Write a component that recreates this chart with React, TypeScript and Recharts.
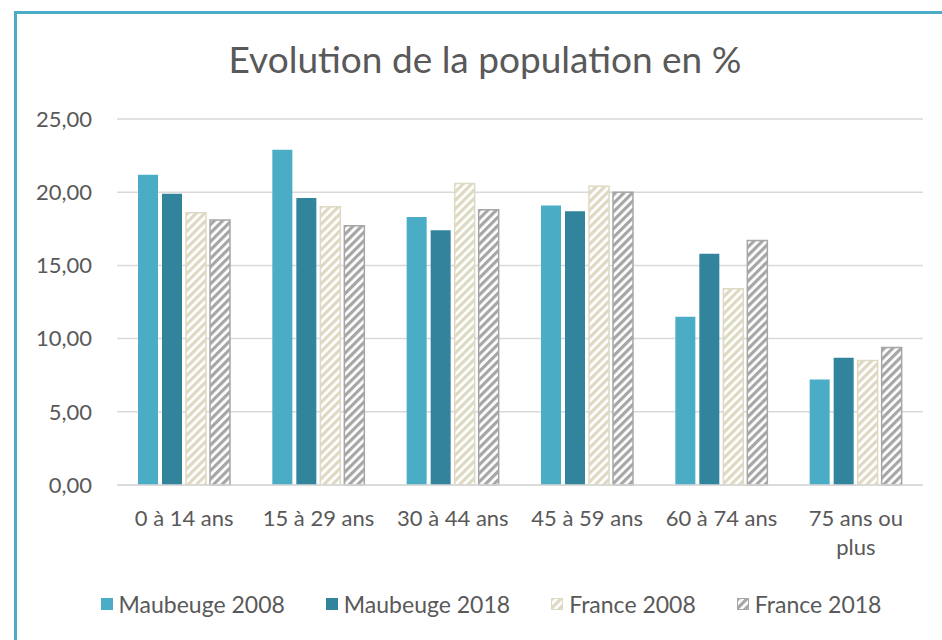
import { BarChart, Bar, XAxis, YAxis, CartesianGrid, Legend } from 'recharts'

const categories = ['0 à 14 ans', '15 à 29 ans', '30 à 44 ans', '45 à 59 ans', '60 à 74 ans', '75 ans ou plus']
const maubeuge2008 = [21.2, 22.9, 18.3, 19.1, 11.5, 7.2]
const maubeuge2018 = [19.9, 19.6, 17.4, 18.7, 15.8, 8.7]
const france2008 = [18.6, 19.0, 20.6, 20.4, 13.4, 8.5]
const france2018 = [18.1, 17.7, 18.8, 20.0, 16.7, 9.4]
const yTicks = [0, 5, 10, 15, 20, 25]

const FONT = 'Lato, "Open Sans", sans-serif'
const TEXT = '#595959'

const series = [
  { key: 'm2008', name: 'Maubeuge 2008', color: '#4BACC6', fill: '#4BACC6' },
  { key: 'm2018', name: 'Maubeuge 2018', color: '#31849B', fill: '#31849B' },
  { key: 'f2008', name: 'France 2008', color: '#DDD9C3', fill: 'url(#hatchF2008)' },
  { key: 'f2018', name: 'France 2018', color: '#A6A6A6', fill: 'url(#hatchF2018)' },
]

const data = categories.map((c, i) => ({
  cat: c,
  m2008: maubeuge2008[i],
  m2018: maubeuge2018[i],
  f2008: france2008[i],
  f2018: france2018[i],
}))

// wrap a label into lines no wider than maxWidth (canvas measurement)
let ctx: CanvasRenderingContext2D | null = null
function wrap(label: string, maxWidth: number, font: string) {
  if (!ctx) ctx = document.createElement('canvas').getContext('2d')
  if (!ctx) return [label]
  ctx.font = font
  const words = label.split(' ')
  const lines: string[] = []
  let cur = ''
  for (const w of words) {
    const next = cur ? cur + ' ' + w : w
    if (cur && ctx.measureText(next).width > maxWidth) {
      lines.push(cur)
      cur = w
    } else {
      cur = next
    }
  }
  if (cur) lines.push(cur)
  return lines
}

function CategoryTick({ x, y, payload }: any) {
  const lines = wrap(String(payload.value), 122, '22px Lato')
  return (
    <text x={x} y={y} textAnchor="middle" fill={TEXT} fontSize={22} fontFamily={FONT}>
      {lines.map((l, i) => (
        <tspan key={i} x={x} dy={i === 0 ? '0.71em' : '1.35em'}>
          {l}
        </tspan>
      ))}
    </text>
  )
}

function LegendContent() {
  return (
    <div style={{ display: 'flex', justifyContent: 'center', gap: 41, fontFamily: FONT, fontSize: 23, color: TEXT }}>
      {series.map((s) => (
        <div key={s.key} style={{ display: 'flex', alignItems: 'center' }}>
          <svg width={12} height={12} style={{ display: 'block' }}>
            <rect x={0.5} y={0.5} width={11} height={11} fill={s.fill} stroke={s.color} strokeWidth={1} />
          </svg>
          <span style={{ marginLeft: 6 }}>{s.name}</span>
        </div>
      ))}
    </div>
  )
}

export default function App() {
  return (
    <div style={{ position: 'absolute', left: 0, top: 0, width: 942, height: 640, overflow: 'hidden', background: '#fff' }}>
      <div
        style={{
          position: 'absolute',
          left: 14,
          top: 11,
          width: 1000,
          height: 700,
          border: '3px solid #4BACC6',
          boxSizing: 'border-box',
        }}
      />
      <div
        style={{
          position: 'absolute',
          left: 0,
          top: 40,
          width: 970,
          textAlign: 'center',
          fontFamily: FONT,
          fontSize: 37,
          lineHeight: 1,
          color: TEXT,
        }}
      >
        Evolution de la population en %
      </div>
      <div style={{ position: 'absolute', left: 0, top: 0 }}>
        <BarChart
          width={942}
          height={640}
          data={data}
          margin={{ top: 119, right: 19, left: 57, bottom: 95 }}
          barCategoryGap={21}
          barGap={4}
        >
          <defs>
            <pattern id="hatchF2008" patternUnits="userSpaceOnUse" width={6} height={6} patternTransform="rotate(45)">
              <rect width={6} height={6} fill="#ffffff" />
              <rect width={3.2} height={6} fill="#DDD9C3" />
            </pattern>
            <pattern id="hatchF2018" patternUnits="userSpaceOnUse" width={6} height={6} patternTransform="rotate(45)">
              <rect width={6} height={6} fill="#ffffff" />
              <rect width={3.2} height={6} fill="#A6A6A6" />
            </pattern>
          </defs>
          <CartesianGrid vertical={false} stroke="#D9D9D9" strokeWidth={1.5} />
          <XAxis
            dataKey="cat"
            interval={0}
            height={60}
            tickLine={false}
            axisLine={{ stroke: '#D9D9D9', strokeWidth: 1.5 }}
            tickMargin={19}
            tick={<CategoryTick />}
          />
          <YAxis
            width={60}
            domain={[0, 25]}
            ticks={yTicks}
            axisLine={false}
            tickLine={false}
            tickMargin={19}
            tickFormatter={(v: number) => v.toFixed(2).replace('.', ',')}
            tick={{ fill: TEXT, fontSize: 22, fontFamily: FONT }}
          />
          <Legend
            layout="horizontal"
            verticalAlign="middle"
            align="center"
            content={<LegendContent />}
            wrapperStyle={{ position: 'absolute', top: 590, left: 0, width: 982 }}
          />
          {series.map((s) => (
            <Bar
              key={s.key}
              dataKey={s.key}
              name={s.name}
              fill={s.fill}
              stroke={s.key.startsWith('f') ? s.color : undefined}
              strokeWidth={s.key.startsWith('f') ? 1.5 : 0}
              isAnimationActive={false}
            />
          ))}
        </BarChart>
      </div>
    </div>
  )
}
